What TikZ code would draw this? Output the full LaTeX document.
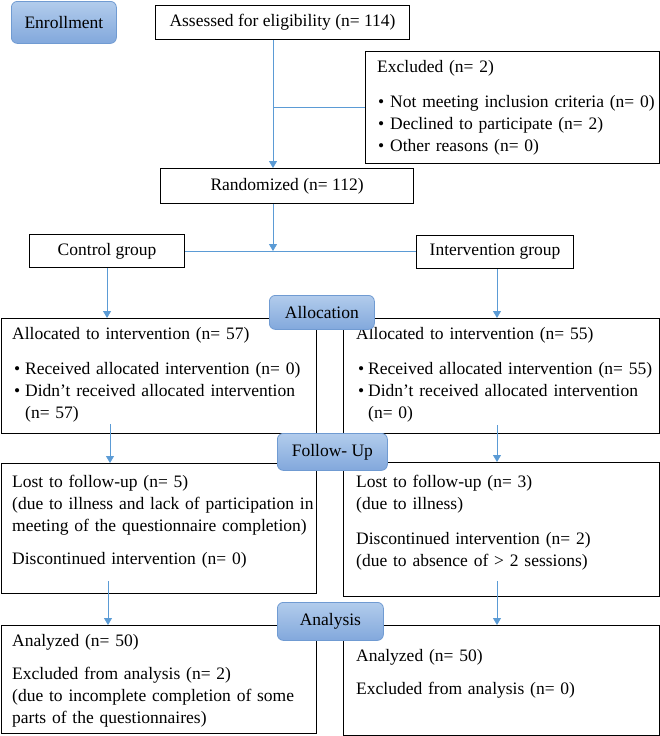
\documentclass[tikz,border=0pt]{standalone}
\usepackage{fontspec}
\setmainfont{Liberation Serif}
\usetikzlibrary{arrows.meta,calc}
\setlength{\parindent}{0pt}
\definecolor{connc}{RGB}{91,155,213}
\definecolor{labtop}{RGB}{178,204,236}
\definecolor{labbot}{RGB}{130,168,220}
\definecolor{labdraw}{RGB}{112,155,210}
\newcommand{\bul}[1]{\makebox[#1][l]{•}}
\begin{document}
\begin{tikzpicture}[x=1pt,y=-1pt,
  every node/.style={font=\fontsize{17.5}{22}\selectfont},
  box/.style={draw=black, line width=1.1pt, anchor=north west, inner sep=0pt},
  txt/.style={anchor=north west, inner sep=0pt, text width=310pt, align=left},
  lab/.style={draw=labdraw, line width=0.8pt, rounded corners=6pt, top color=labtop, bottom color=labbot, anchor=north west, inner sep=0pt},
  conn/.style={draw=connc, line width=0.8pt, -{Triangle[width=8pt,length=7pt]}},
  connline/.style={draw=connc, line width=0.8pt}]
\useasboundingbox (0,0) rectangle (660,736);

% enrollment
\node[lab, minimum width=105pt, minimum height=42pt] (enrol) at (11,1) {Enrollment};
\node[box, minimum width=254pt, minimum height=34pt] (assess) at (155,5) {Assessed for eligibility (n= 114)};
\node[box, minimum width=294pt, minimum height=112pt] (excl) at (365,51) {};
\node[txt] (exclt) at (377,57.25) {\strut Excluded (n= 2)\par\vspace{12.5pt}
\hspace*{1pt}\bul{12pt}Not meeting inclusion criteria (n= 0)\par
\hspace*{1pt}\bul{12pt}Declined to participate (n= 2)\par
\hspace*{1pt}\bul{12pt}Other reasons (n= 0)};
\node[box, minimum width=253pt, minimum height=35pt] (rand) at (160,168) {Randomized (n= 112)};
\node[box, minimum width=155pt, minimum height=33pt] (ctrl) at (29,234) {Control group};
\node[box, minimum width=157pt, minimum height=33pt] (interv) at (416,235) {Intervention group};

% allocation
\node[box, minimum width=315pt, minimum height=115pt] (allocL) at (1,318) {};
\node[txt] (allocLt) at (12,324.25) {\strut Allocated to intervention (n= 57)\par\vspace{12.5pt}
\hspace*{2pt}\bul{11pt}Received allocated intervention (n= 0)\par
\hspace*{2pt}\bul{11pt}Didn’t received allocated intervention\par
\hspace*{13pt}(n= 57)};
\node[box, minimum width=316pt, minimum height=115pt] (allocR) at (343,318) {};
\node[txt] (allocRt) at (356,324.25) {\strut Allocated to intervention (n= 55)\par\vspace{12.5pt}
\hspace*{2pt}\bul{10pt}Received allocated intervention (n= 55)\par
\hspace*{2pt}\bul{10pt}Didn’t received allocated intervention\par
\hspace*{12pt}(n= 0)};
\node[lab, minimum width=105pt, minimum height=34pt] (alloclab) at (269,295) {Allocation};

% follow-up
\node[box, minimum width=315pt, minimum height=130pt] (fuL) at (1,463) {};
\node[txt] (fuLt) at (12,472.25) {\strut Lost to follow-up (n= 5)\par
(due to illness and lack of participation in\par
meeting of the questionnaire completion)\par\vspace{10.5pt}
Discontinued intervention (n= 0)};
\node[box, minimum width=316pt, minimum height=134pt] (fuR) at (343,462) {};
\node[txt] (fuRt) at (356,472.25) {\strut Lost to follow-up (n= 3)\par
(due to illness)\par\vspace{12.5pt}
Discontinued intervention (n= 2)\par
(due to absence of > 2 sessions)};
\node[lab, minimum width=110pt, minimum height=37pt] (fulab) at (277,433) {Follow- Up};

% analysis
\node[box, minimum width=315pt, minimum height=108pt] (anL) at (1,625) {};
\node[txt] (anLt) at (12,631.25) {\strut Analyzed (n= 50)\par\vspace{10.5pt}
Excluded from analysis (n= 2)\par
(due to incomplete completion of some\par
parts of the questionnaires)};
\node[box, minimum width=316pt, minimum height=110pt] (anR) at (343,625) {};
\node[txt] (anRt) at (356,646.25) {\strut Analyzed (n= 50)\par\vspace{10.5pt}
Excluded from analysis (n= 0)};
\node[lab, minimum width=106pt, minimum height=38pt] (anlab) at (277,602) {Analysis};

% connectors
\coordinate (tx) at (273,0);
\coordinate (lx1) at (110,0);
\coordinate (lx2) at (108,0);
\coordinate (rx) at (497,0);
\draw[conn] (assess.south -| tx) -- (rand.north -| tx);
\draw[connline] (excl.west -| tx) -- (excl.west);
\draw[conn] (rand.south -| tx) -- (ctrl.east -| tx);
\draw[connline] (ctrl.east) -- (ctrl.east -| interv.west);
\draw[conn] (ctrl.south) -- (ctrl.south |- allocL.north);
\draw[conn] (interv.south -| rx) -- (allocR.north -| rx);
\draw[conn] ($(allocL.south -| lx1)+(0,-10)$) -- (fuL.north -| lx1);
\draw[conn] ($(allocR.south -| rx)+(0,-9)$) -- (fuR.north -| rx);
\draw[conn] ($(fuL.south -| lx2)+(0,-13)$) -- (anL.north -| lx2);
\draw[conn] ($(fuR.south -| rx)+(0,-16)$) -- (anR.north -| rx);
\end{tikzpicture}
\end{document}
